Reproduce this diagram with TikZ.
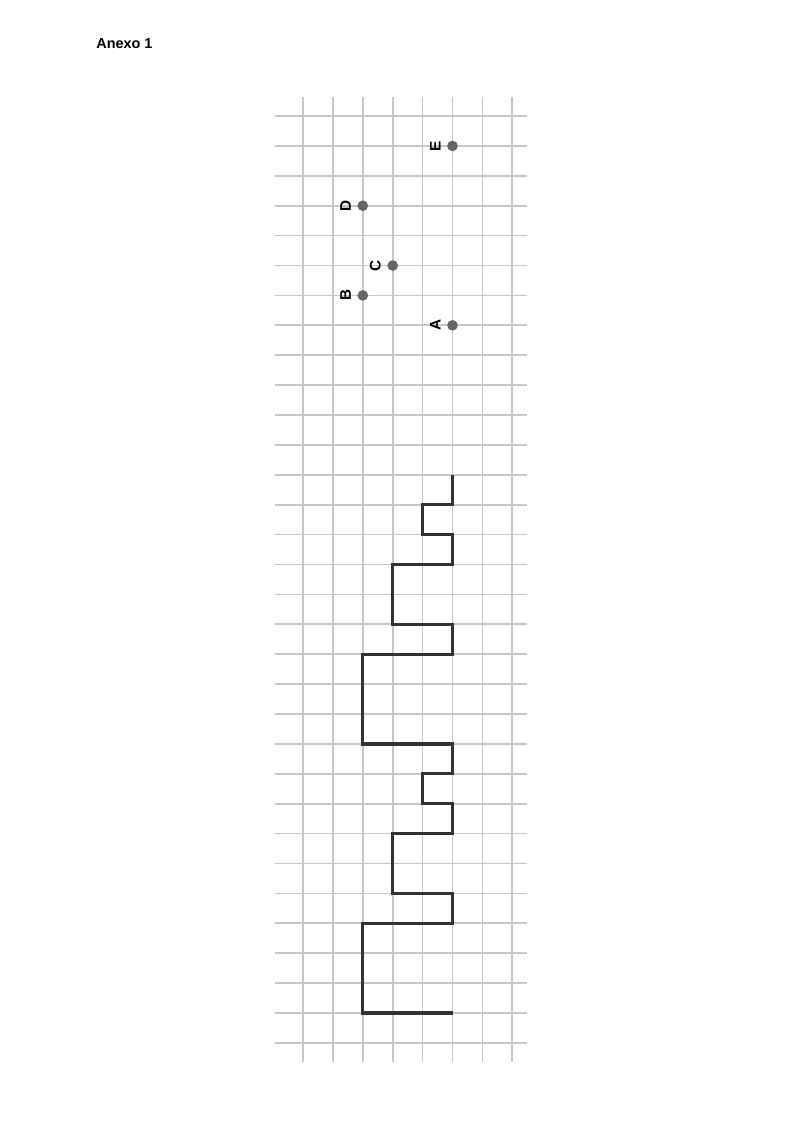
\documentclass[tikz,border=0pt]{standalone}
\usepackage{fontspec}
\setmainfont{Liberation Sans}
\usetikzlibrary{positioning}

\tikzset{
  gridline/.style={black!22, line width=1.3pt},
  dot/.style={fill=black!60, circle, inner sep=0pt, minimum size=8pt},
  lbl/.style={font=\fontsize{11.5}{13}\selectfont\bfseries, rotate=90, inner sep=0pt},
  route/.style={black!80, line width=2.4pt}
}

\begin{document}
\begin{tikzpicture}[x=22.425pt, y=-22.425pt]
    \useasboundingbox (-10.134,-3.880) rectangle (16.622,33.980);

    % Title
    \node[anchor=west, inner sep=0pt, font=\fontsize{10.8}{13}\selectfont\bfseries] (title) at (-6.92,-2.41) {Anexo 1};

    % Draw grid
    \foreach \r in {0,...,31}
        \draw[gridline] (-0.95,\r) -- (7.49,\r);
    \foreach \c in {0,...,7}
        \draw[gridline] (\c,-0.64) -- (\c,31.65);

    % Draw points
    \node[dot] (E) at (5,1) {};
    \node[dot] (D) at (2,3) {};
    \node[dot] (C) at (3,5) {};
    \node[dot] (B) at (2,6) {};
    \node[dot] (A) at (5,7) {};

    % Point names
    \node[lbl, left=4.5pt of E, anchor=south] (lE) {E};
    \node[lbl, left=4.5pt of D, anchor=south] (lD) {D};
    \node[lbl, left=4.5pt of C, anchor=south] (lC) {C};
    \node[lbl, left=4.5pt of B, anchor=south] (lB) {B};
    \node[lbl, left=4.5pt of A, anchor=south] (lA) {A};

    % Draw the path
    \draw[route] (5,12) -- (5,13) -- (4,13) -- (4,14) -- (5,14) -- (5,15)
        -- (3,15) -- (3,17) -- (5,17) -- (5,18) -- (2,18) -- (2,21)
        -- (5,21) -- (5,22) -- (4,22) -- (4,23) -- (5,23) -- (5,24)
        -- (3,24) -- (3,26) -- (5,26) -- (5,27) -- (2,27) -- (2,30) -- (5,30);
\end{tikzpicture}
\end{document}
